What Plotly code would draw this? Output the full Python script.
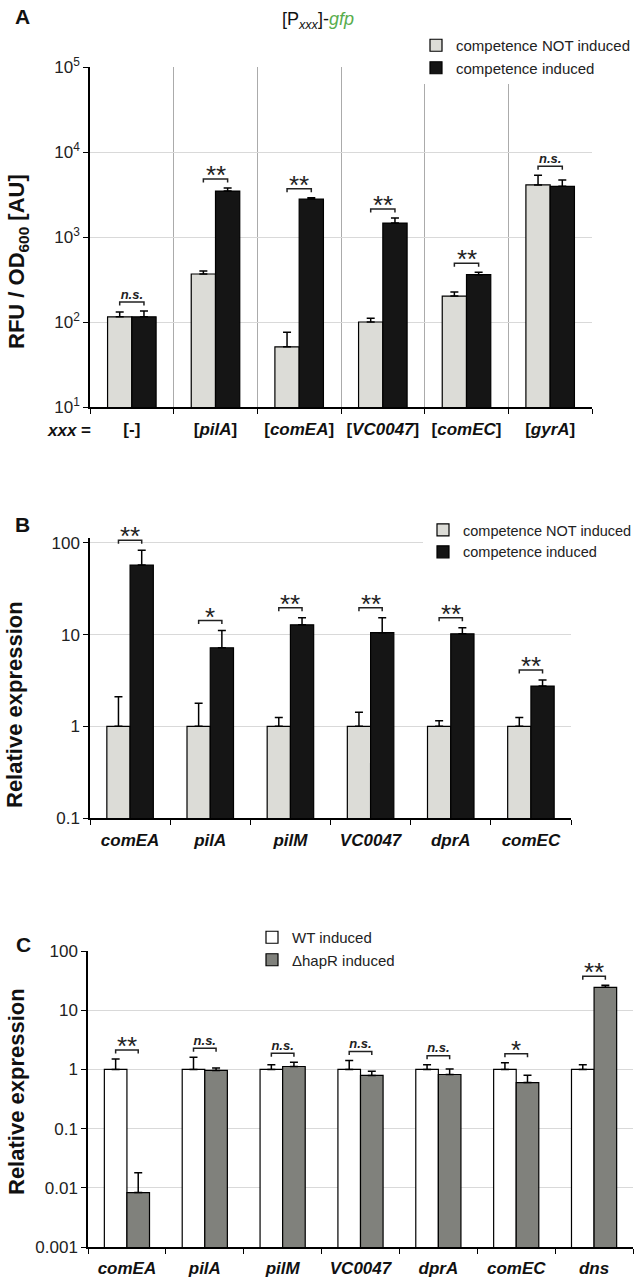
import numpy as np
import plotly.graph_objects as go

W, H = 636, 1283
FONT = "Liberation Sans, Arial, sans-serif"

# ---------------- Panel A data ----------------
A_promoters = ["-", "pilA", "comEA", "VC0047", "comEC", "gyrA"]
A_not_induced = [115, 367, 51, 100, 202, 4100]
A_not_induced_err = [16, 31, 25, 11, 23, 1240]
A_induced = [115, 3470, 2800, 1460, 360, 3950]
A_induced_err = [20, 300, 100, 210, 25, 740]
A_sig = ["n.s.", "**", "**", "**", "**", "n.s."]
A_yticks = [10, 100, 1000, 10000, 100000]
A_yticktext = ["10<sup>1</sup>", "10<sup>2</sup>", "10<sup>3</sup>", "10<sup>4</sup>", "10<sup>5</sup>"]

# ---------------- Panel B data ----------------
B_genes = ["comEA", "pilA", "pilM", "VC0047", "dprA", "comEC"]
B_not_induced = [1, 1, 1, 1, 1, 1]
B_not_induced_err = [1.1, 0.78, 0.25, 0.42, 0.15, 0.25]
B_induced = [57.5, 7.2, 12.8, 10.5, 10.2, 2.75]
B_induced_err = [26, 3.9, 2.5, 4.8, 1.7, 0.45]
B_sig = ["**", "*", "**", "**", "**", "**"]
B_yticks = [0.1, 1, 10, 100]
B_yticktext = ["0.1", "1", "10", "100"]

# ---------------- Panel C data ----------------
C_genes = ["comEA", "pilA", "pilM", "VC0047", "dprA", "comEC", "dns"]
C_wt = [1, 1, 1, 1, 1, 1, 1]
C_wt_err = [0.5, 0.6, 0.2, 0.42, 0.2, 0.3, 0.2]
C_hapR = [0.0083, 0.96, 1.12, 0.79, 0.82, 0.6, 24.3]
C_hapR_err = [0.0097, 0.1, 0.2, 0.14, 0.2, 0.2, 2.0]
C_sig = ["**", "n.s.", "n.s.", "n.s.", "n.s.", "*", "**"]
C_yticks = [0.001, 0.01, 0.1, 1, 10, 100]
C_yticktext = ["0.001", "0.01", "0.1", "1", "10", "100"]

LEG_A = ["competence NOT induced", "competence induced"]
LEG_C = ["WT induced", "\u0394hapR induced"]

LIGHT = "#dcdcd7"
BLACK = "#151515"
MIDGRAY = "#80817c"


def px_x(p):
    return p / W


def px_y(p):
    return 1 - p / H


fig = go.Figure()
annotations = []
BW = 0.29


def add_panel(ax, xpx, ypx, yrange, ticktext, s1, e1, s2, e2, names, colors,
              sig, legend_id, yticks, yticktext, vgrid, pad_px, standoff):
    n = len(ticktext)
    idx = list(range(n))
    xa, ya = "x" + ax, "y" + ax
    for vals, errs, name, col, off in [(s1, e1, names[0], colors[0], -BW),
                                       (s2, e2, names[1], colors[1], 0.0)]:
        fig.add_trace(go.Bar(
            x=idx, y=vals, width=BW, offset=off, name=name,
            marker=dict(color=col, line=dict(color="black", width=1.2)),
            error_y=dict(type="data", symmetric=False, array=errs,
                         arrayminus=[0] * n, thickness=1.5, width=4, color="black"),
            xaxis=xa, yaxis=ya, legend=legend_id, hoverinfo="skip"))
    decade_px = (ypx[1] - ypx[0]) / (yrange[1] - yrange[0])
    pad = 10 ** (pad_px / decade_px)
    tick = 10 ** (3.5 / decade_px)
    bx, by = [], []
    ns_x, ns_y = [], []
    for i in idx:
        top = max(s1[i] + e1[i], s2[i] + e2[i]) * pad
        xl, xr = i - BW / 2, i + BW / 2
        bx += [xl, xl, xr, xr, None]
        by += [top / tick, top, top, top / tick, None]
        if sig[i] == "n.s.":
            ns_x.append(i)
            ns_y.append(top)
        else:
            annotations.append(dict(x=i, y=np.log10(top), xref=xa, yref=ya,
                                    text=sig[i], showarrow=False,
                                    xanchor="center", yanchor="middle", yshift=4,
                                    font=dict(family=FONT, size=26, color="#222")))
    fig.add_trace(go.Scatter(x=bx, y=by, mode="lines", xaxis=xa, yaxis=ya,
                             line=dict(color="#222", width=1.5), showlegend=False,
                             hoverinfo="skip", cliponaxis=False))
    if ns_x:
        fig.add_trace(go.Scatter(x=ns_x, y=ns_y, text=["<b><i>n.s.</i></b>"] * len(ns_x),
                                 mode="text", textposition="top center",
                                 xaxis=xa, yaxis=ya,
                                 textfont=dict(family=FONT, size=13, color="#222"),
                                 showlegend=False, hoverinfo="skip", cliponaxis=False))
    bounds = [i - 0.5 for i in range(n + 1)]
    fig.update_layout(**{
        "xaxis" + ax: dict(domain=[px_x(xpx[0]), px_x(xpx[1])], anchor=ya,
                           range=[-0.5, n - 0.5], tickmode="array", tickvals=idx,
                           ticktext=ticktext, ticks="", showline=True, linecolor="black",
                           linewidth=1.5, showgrid=False, zeroline=False,
                           automargin=False, ticklabelstandoff=standoff,
                           tickfont=dict(family=FONT, size=17, color="#111"),
                           minor=dict(tickmode="array", tickvals=bounds, ticks="outside",
                                      ticklen=5, tickcolor="black", tickwidth=1.2,
                                      showgrid=vgrid, gridcolor="#ababab", gridwidth=1)),
        "yaxis" + ax: dict(domain=[px_y(ypx[1]), px_y(ypx[0])], anchor=xa, type="log",
                           range=list(yrange), tickmode="array", tickvals=yticks,
                           ticktext=yticktext, ticks="outside", ticklen=5,
                           tickcolor="black", tickwidth=1.2, showline=True,
                           linecolor="black", linewidth=1.5, showgrid=True,
                           gridcolor="#d9d9d9", gridwidth=1.2, zeroline=False,
                           automargin=False,
                           tickfont=dict(family=FONT, size=17, color="#222")),
    })


A_ticktext = ["<b>[-]</b>" if g == "-" else "<b>[<i>%s</i>]</b>" % g for g in A_promoters]
B_ticktext = ["<b><i>%s</i></b>" % g for g in B_genes]
C_ticktext = ["<b><i>%s</i></b>" % g for g in C_genes]

add_panel("", (90, 592), (67, 407), (1, 5), A_ticktext,
          A_not_induced, A_not_induced_err, A_induced, A_induced_err,
          LEG_A, [LIGHT, BLACK], A_sig, "legend", A_yticks, A_yticktext, True, 9, 6)
add_panel("2", (90, 571), (538.4, 818), (-1, 2.05), B_ticktext,
          B_not_induced, B_not_induced_err, B_induced, B_induced_err,
          LEG_A, [LIGHT, BLACK], B_sig, "legend2", B_yticks, B_yticktext, False, 10, 6)
add_panel("3", (88, 633), (951, 1247), (-3, 2), C_ticktext,
          C_wt, C_wt_err, C_hapR, C_hapR_err,
          LEG_C, ["white", MIDGRAY], C_sig, "legend3", C_yticks, C_yticktext, False, 9, 5)


def paper_text(x, y, text, size, bold=False, angle=0):
    annotations.append(dict(x=px_x(x), y=px_y(y), xref="paper", yref="paper",
                            xanchor="center", yanchor="middle",
                            text=("<b>%s</b>" % text) if bold else text,
                            showarrow=False, textangle=angle,
                            font=dict(family=FONT, size=size, color="#111")))


paper_text(22, 17, "A", 21, bold=True)
paper_text(22, 524, "B", 21, bold=True)
paper_text(23, 944, "C", 21, bold=True)
paper_text(318, 21, "[P<sub><i>xxx</i></sub>]-<span style='color:#58ad4c'><i>gfp</i></span>", 18)
paper_text(69, 430, "<i>xxx</i> =", 17, bold=True)
paper_text(18, 262, "RFU / OD<sub>600</sub> [AU]", 22, bold=True, angle=-90)
paper_text(14, 705, "Relative expression", 22, bold=True, angle=-90)
paper_text(16, 1092, "Relative expression", 22, bold=True, angle=-90)


def legend_style(size):
    return dict(font=dict(family=FONT, size=size, color="#222"), bgcolor="white",
                borderwidth=0, xanchor="left", yanchor="top",
                tracegroupgap=0, itemclick=False)


fig.update_layout(
    width=W, height=H, margin=dict(l=0, r=0, t=0, b=0, autoexpand=False),
    paper_bgcolor="white", plot_bgcolor="white", barmode="overlay",
    annotations=annotations,
    legend=dict(x=px_x(416), y=px_y(29), **legend_style(15)),
    legend2=dict(x=px_x(423), y=px_y(514), **legend_style(14.5)),
    legend3=dict(x=px_x(252), y=px_y(921), **legend_style(15)),
)

fig.write_html("out.html", config={"displayModeBar": False},
               post_script="document.body.style.margin='0px';"
                           "document.body.style.overflow='hidden';")
